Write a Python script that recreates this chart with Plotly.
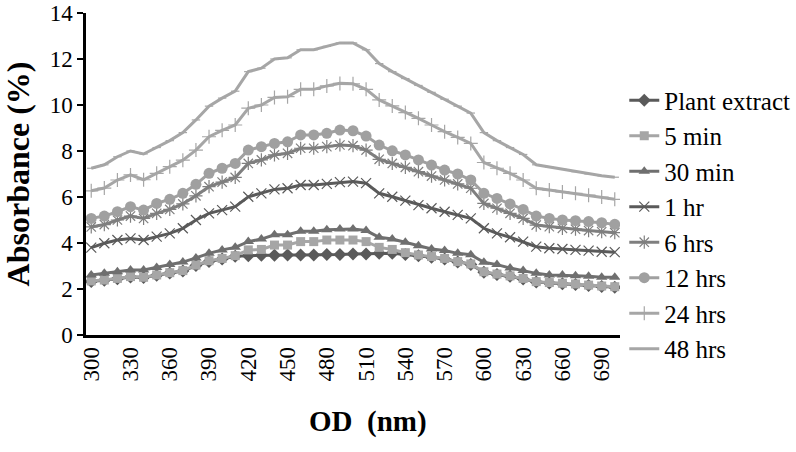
import plotly.graph_objects as go

wavelength = list(range(300, 701, 10))

plant_extract = [2.33, 2.38, 2.45, 2.52, 2.50, 2.60, 2.70, 2.78, 3.02, 3.20, 3.30, 3.42, 3.45, 3.47, 3.47, 3.48, 3.48, 3.48, 3.50, 3.50, 3.52,
                 3.52, 3.55, 3.55, 3.50, 3.45, 3.38, 3.30, 3.17, 3.07, 2.73, 2.63, 2.55, 2.44, 2.30, 2.26, 2.23, 2.20, 2.15, 2.11, 2.08]
min5 = [2.35, 2.39, 2.46, 2.54, 2.51, 2.61, 2.71, 2.80, 3.04, 3.23, 3.33, 3.45, 3.70, 3.72, 3.91, 3.91, 4.06, 4.06, 4.13, 4.13, 4.13,
        4.06, 3.81, 3.72, 3.58, 3.48, 3.41, 3.33, 3.19, 3.09, 2.75, 2.65, 2.57, 2.46, 2.32, 2.28, 2.25, 2.22, 2.17, 2.13, 2.10]
min30 = [2.61, 2.68, 2.75, 2.83, 2.83, 2.94, 3.06, 3.17, 3.35, 3.55, 3.70, 3.81, 4.06, 4.17, 4.36, 4.36, 4.51, 4.51, 4.58, 4.61, 4.61,
         4.54, 4.25, 4.17, 4.03, 3.88, 3.74, 3.67, 3.55, 3.49, 3.16, 3.06, 2.91, 2.80, 2.68, 2.61, 2.61, 2.58, 2.55, 2.51, 2.51]
hr1 = [3.80, 3.99, 4.13, 4.20, 4.13, 4.28, 4.42, 4.64, 5.00, 5.29, 5.43, 5.58, 6.01, 6.16, 6.33, 6.38, 6.52, 6.52, 6.57, 6.65, 6.67,
       6.60, 6.16, 6.01, 5.84, 5.65, 5.51, 5.36, 5.22, 5.07, 4.64, 4.42, 4.25, 4.06, 3.84, 3.77, 3.74, 3.70, 3.67, 3.62, 3.60]
hrs6 = [4.70, 4.80, 5.00, 5.17, 5.07, 5.29, 5.46, 5.70, 6.05, 6.45, 6.65, 6.85, 7.46, 7.61, 7.83, 7.90, 8.12, 8.12, 8.19, 8.26, 8.23,
        8.04, 7.64, 7.46, 7.29, 7.10, 6.91, 6.74, 6.57, 6.38, 5.72, 5.51, 5.29, 5.07, 4.78, 4.71, 4.64, 4.60, 4.54, 4.49, 4.45]
hrs12 = [5.07, 5.17, 5.36, 5.58, 5.43, 5.72, 5.90, 6.16, 6.55, 7.03, 7.25, 7.46, 8.04, 8.19, 8.33, 8.40, 8.70, 8.70, 8.77, 8.91, 8.88,
         8.65, 8.26, 8.01, 7.83, 7.61, 7.39, 7.17, 7.00, 6.74, 6.16, 5.94, 5.70, 5.46, 5.17, 5.07, 5.00, 4.97, 4.93, 4.88, 4.81]
hrs24 = [6.27, 6.39, 6.74, 6.96, 6.75, 7.03, 7.32, 7.60, 8.04, 8.62, 8.90, 9.13, 9.86, 10.00, 10.33, 10.36, 10.68, 10.68, 10.83, 10.94, 10.92,
         10.68, 10.22, 9.96, 9.67, 9.42, 9.13, 8.84, 8.59, 8.33, 7.50, 7.25, 7.03, 6.74, 6.38, 6.30, 6.22, 6.16, 6.08, 6.00, 5.90]
hrs48 = [7.25, 7.40, 7.75, 8.00, 7.87, 8.15, 8.45, 8.80, 9.35, 9.95, 10.30, 10.60, 11.45, 11.60, 12.00, 12.05, 12.40, 12.40, 12.55, 12.70, 12.70,
         12.40, 11.80, 11.45, 11.15, 10.85, 10.55, 10.25, 9.95, 9.65, 8.80, 8.45, 8.15, 7.85, 7.40, 7.30, 7.20, 7.10, 7.00, 6.92, 6.86]

series_names = ["Plant extract", "5 min", "30 min", "1 hr", "6 hrs", "12 hrs", "24 hrs", "48 hrs"]
x_tick_labels = list(range(300, 691, 30))
y_tick_labels = list(range(0, 15, 2))
x_title = "OD  (nm)"
y_title = "Absorbance (%)"

styles = [
    dict(color="#5a5a5a", symbol="diamond", size=10, mline=0),
    dict(color="#a6a6a6", symbol="square", size=9, mline=0),
    dict(color="#6f6f6f", symbol="triangle-up", size=10, mline=0),
    dict(color="#5a5a5a", symbol="x-thin-open", size=10, mline=1.2),
    dict(color="#7f7f7f", symbol="asterisk-open", size=11, mline=1.2),
    dict(color="#a0a0a0", symbol="circle", size=11, mline=0),
    dict(color="#a6a6a6", symbol="cross-thin-open", size=10, mline=1.2),
    dict(color="#a6a6a6", symbol="line-ew-open", size=6, mline=1.2),
]
data = [plant_extract, min5, min30, hr1, hrs6, hrs12, hrs24, hrs48]

fig = go.Figure()
for name, ys, st in zip(series_names, data, styles):
    fig.add_trace(go.Scatter(
        x=wavelength, y=ys, name=name, mode="lines+markers",
        line=dict(color=st["color"], width=3),
        marker=dict(symbol=st["symbol"], size=st["size"], color=st["color"],
                    line=dict(color=st["color"], width=st["mline"])),
    ))

font_family = "Liberation Serif"
fig.update_layout(
    width=796, height=452,
    margin=dict(l=86, r=176, t=13, b=117, autoexpand=False),
    paper_bgcolor="white", plot_bgcolor="white",
    font=dict(family=font_family, color="black"),
    showlegend=True,
    legend=dict(x=1.008, y=0.80, xanchor="left", yanchor="top",
                font=dict(size=25, family=font_family, color="black"),
                bgcolor="rgba(0,0,0,0)", tracegroupgap=0, itemwidth=30),
    annotations=[dict(text="<b>" + x_title + "</b>", xref="paper", yref="paper",
                      x=0.528, y=-0.27, xanchor="center", yanchor="middle", showarrow=False,
                      font=dict(size=29, family=font_family, color="black"))],
)
fig.update_xaxes(
    range=[296, 704], showgrid=False, zeroline=False, automargin=False,
    showline=True, linecolor="black", linewidth=2.5,
    tickmode="array", tickvals=x_tick_labels, ticktext=[str(v) for v in x_tick_labels],
    tickangle=-90, ticks="", tickfont=dict(size=23, family=font_family),
)
fig.update_yaxes(
    range=[0, 14], showgrid=False, zeroline=False, automargin=False,
    showline=True, linecolor="black", linewidth=2.5,
    tickmode="array", tickvals=y_tick_labels,
    ticks="outside", ticklen=6, tickwidth=2, tickcolor="black",
    tickfont=dict(size=23, family=font_family),
    title=dict(text="<b>" + y_title + "</b>", font=dict(size=32, family=font_family), standoff=11),
)

fig.write_html("out.html", config={"displayModeBar": False},
               post_script="document.body.style.margin='0';document.body.style.padding='0';")
